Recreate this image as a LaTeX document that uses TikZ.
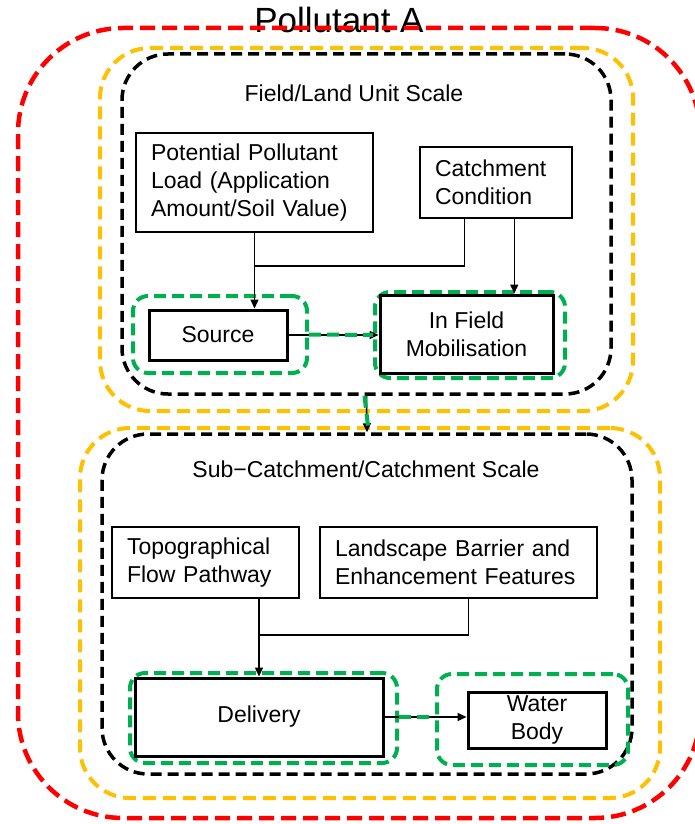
\documentclass[tikz,border=0pt]{standalone}
\usepackage{fontspec}
\setmainfont{Liberation Sans}
\usetikzlibrary{arrows.meta}
\definecolor{ygold}{HTML}{FFC000}
\definecolor{ggreen}{HTML}{00B050}
\begin{document}
\begin{tikzpicture}[x = 1pt, y = -1pt,
		every node/.style = {font=\fontsize{23}{28}\selectfont},
		frame/.style = {draw, rounded corners=46pt, inner sep=0pt, line width=3.5pt, dash pattern=on 11pt off 6pt},
		redframe/.style = {frame, draw=red, rounded corners=105pt, line width=4.5pt, dash pattern=on 15pt off 7pt},
		goldframe/.style = {frame, draw=ygold, rounded corners=50pt, line width=4pt, dash pattern=on 13pt off 7pt},
		greenframe/.style = {frame, draw=ggreen, rounded corners=15pt, line width=4pt, dash pattern=on 12pt off 6pt},
		txtbox/.style = {draw, line width=1.5pt, inner xsep=15pt, inner ysep=0pt, align=left},
		keybox/.style = {draw, line width=3pt, inner sep=0pt, align=center},
		gline/.style = {draw=ggreen, line width=4pt, dash pattern=on 12pt off 6pt},
		arr/.style = {draw, line width=1.5pt, -{Triangle[length=9pt, width=8pt]}}]
		\clip (0,0) rectangle (695,824);
		\node (title) at (339,20) {\fontsize{35}{40}\selectfont Pollutant A};
		\node [redframe, minimum width=682, minimum height=790] (polframe) at (359,423) {};
		\node [goldframe, minimum width=533, minimum height=363] (fieldout) at (366.5,229.5) {};
		\node [frame, minimum width=489, minimum height=340] (fieldin) at (366.5,224) {};
		\node (fieldtitle) at (354,93) {Field/Land Unit Scale};
		\node [txtbox, text width=207, minimum height=99] (pot) at (254.5,182.5) {Potential Pollutant\\Load (Application\\Amount/Soil Value)};
		\node [txtbox, text width=122, minimum height=71] (cond) at (496,182.5) {Catchment\\Condition};
		\node [greenframe, minimum width=174, minimum height=77] (srcg) at (220,334.5) {};
		\node [keybox, minimum width=138, minimum height=50] (src) at (218,335) {Source};
		\node [greenframe, minimum width=190, minimum height=86] (mobg) at (470,335) {};
		\node [keybox, minimum width=173, minimum height=78] (mob) at (466.5,334) {In Field\\Mobilisation};
		\coordinate (jn1) at (254.5,266);
		\path [arr] (pot.south) -- (pot.south |- src.north);
		\path [draw, line width=1.5pt] ([xshift=45pt]cond.south west) |- (jn1);
		\path [arr] ([xshift=95pt]cond.south west) -- ([xshift=95pt]cond.south west |- mob.north);
		\path [arr] (src.east) -- (src.east -| mob.west);
		\path [gline] (srcg.east) -- (mobg.west);
		\node [goldframe, minimum width=580, minimum height=370] (subout) at (370,613) {};
		\node [frame, minimum width=530, minimum height=340] (subin) at (367,604) {};
		\path [arr] (fieldin.south) -- (subin.north);
		\path [gline] ([xshift=-2pt]fieldin.south) -- ([xshift=-2pt]subout.north);
		\node (subtitle) at (366,469) {Sub−Catchment/Catchment Scale};
		\node [txtbox, text width=157, minimum height=71] (topo) at (205.5,562.5) {Topographical\\Flow Pathway};
		\node [txtbox, text width=247, minimum height=71] (land) at (458.5,562.5) {Landscape Barrier and\\Enhancement Features};
		\node [greenframe, minimum width=267, minimum height=90] (delg) at (263.5,718) {};
		\node [keybox, minimum width=248, minimum height=78] (del) at (259,717) {Delivery};
		\node [greenframe, minimum width=191, minimum height=91] (waterg) at (532.5,719.5) {};
		\node [keybox, minimum width=138, minimum height=56] (water) at (537,720) {Water\\Body};
		\coordinate (jn2) at (259,635);
		\path [arr] (topo.south -| del.north) -- (del.north);
		\path [draw, line width=1.5pt] ([xshift=10pt]land.south) |- (jn2);
		\path [arr] (del.east) -- (del.east -| water.west);
		\path [gline] (delg.east |- del.east) -- (waterg.west |- del.east);
	\end{tikzpicture}
\end{document}
